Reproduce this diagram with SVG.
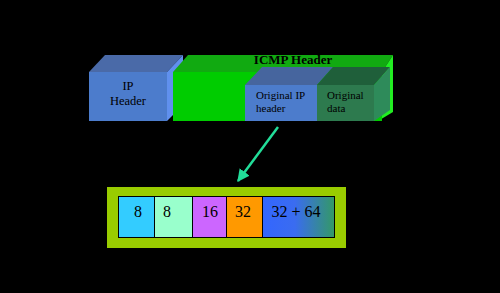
<svg xmlns="http://www.w3.org/2000/svg" width="500" height="293" viewBox="0 0 500 293">
<style>
.t{font-family:"Liberation Serif","Times New Roman",serif;fill:#000}
.s{font-size:11px}
.m{font-size:12.5px}
.n{font-size:16px}
.c{stroke:#000;stroke-width:1}
</style>
<defs>
<linearGradient id="g" x1="0" y1="0" x2="1" y2="0">
<stop offset="0" stop-color="#3366ff"/>
<stop offset="0.45" stop-color="#3a6cf0"/>
<stop offset="1" stop-color="#339966"/>
</linearGradient>
<marker id="ah" viewBox="0 0 10 10" refX="9" refY="5" markerWidth="5" markerHeight="5" orient="auto">
<path d="M0,0 L10,5 L0,10 z" fill="#22dd99"/>
</marker>
</defs>
<rect width="500" height="293" fill="#000"/>
<g id="ip-header">
<polygon points="89,72 105,55 183,55 167,72" fill="#4a6aa8"/>
<polygon points="167,72 183,55 183,105 167,121" fill="#6090ee"/>
<rect x="89" y="72" width="78" height="49" fill="#4c7ccc"/>
<text class="t m" x="128" y="90" text-anchor="middle">IP</text>
<text class="t m" x="128" y="105" text-anchor="middle">Header</text>
</g>
<g id="icmp-header">
<polygon points="173,72 188,55 393,55 382,72" fill="#11aa11"/>
<polygon points="382,72 393,55 393,112 378,121" fill="#22ee22"/>
<rect x="173" y="72" width="209" height="49" fill="#00cc00"/>
<text class="t" x="293" y="64" text-anchor="middle" font-size="13" font-weight="bold">ICMP Header</text>
</g>
<g id="original-ip-header">
<polygon points="245,85 262,67 333,67 317,85" fill="#46659e"/>
<rect x="245" y="85" width="72" height="36" fill="#4c7ccc"/>
<text class="t s" x="256" y="99">Original IP</text>
<text class="t s" x="256" y="112">header</text>
</g>
<g id="original-data">
<polygon points="317,85 333,67 390,67 374,85" fill="#1f5f3a"/>
<polygon points="374,85 390,67 390,110 374,121" fill="#2e8b5a"/>
<rect x="317" y="85" width="57" height="36" fill="#2d7a4e"/>
<text class="t s" x="327" y="99">Original</text>
<text class="t s" x="327" y="112">data</text>
</g>
<g id="connectors">
<line x1="278" y1="127" x2="238" y2="181" stroke="#22dd99" stroke-width="2.5" marker-end="url(#ah)"/>
</g>
<g id="fields">
<rect x="107" y="187" width="239" height="61" fill="#99cc00"/>
<rect class="c" x="118.5" y="196.5" width="36" height="41" fill="#33ccff"/>
<rect class="c" x="154.5" y="196.5" width="38" height="41" fill="#99ffcc"/>
<rect class="c" x="192.5" y="196.5" width="34" height="41" fill="#cc66ff"/>
<rect class="c" x="226.5" y="196.5" width="36" height="41" fill="#ff9900"/>
<rect class="c" x="262.5" y="196.5" width="72" height="41" fill="url(#g)"/>
<text class="t n" x="138" y="217" text-anchor="middle">8</text>
<text class="t n" x="167" y="217" text-anchor="middle">8</text>
<text class="t n" x="210" y="217" text-anchor="middle">16</text>
<text class="t n" x="243" y="217" text-anchor="middle">32</text>
<text class="t n" x="296" y="217" text-anchor="middle">32 + 64</text>
</g>
</svg>
